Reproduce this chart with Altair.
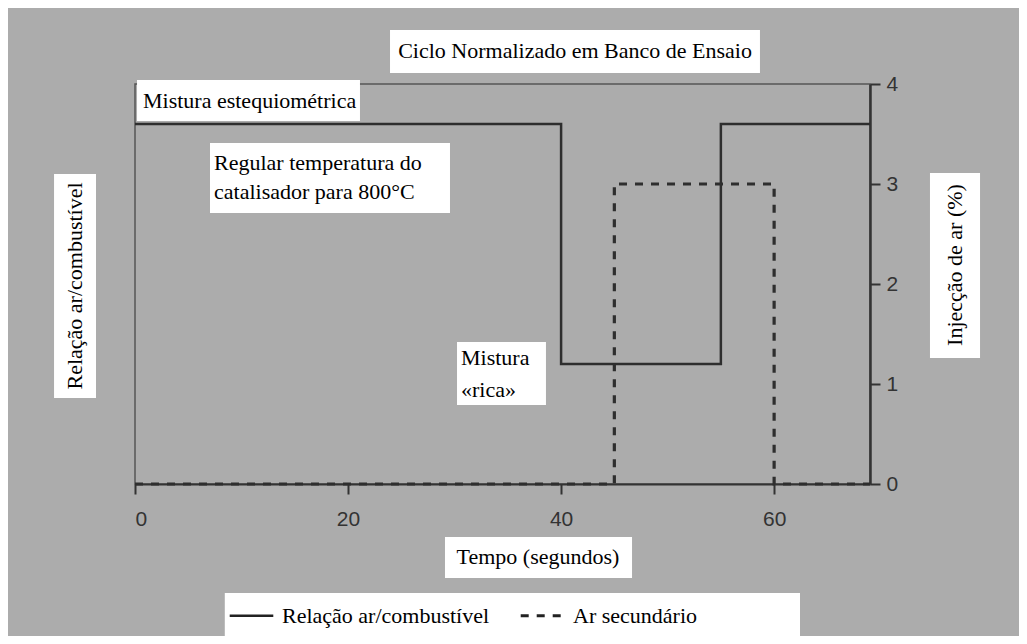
import altair as alt
import pandas as pd

# ---- data ----
serie_names = ["Relação ar/combustível", "Ar secundário"]
relacao_t = [0, 40, 55, 69]
relacao_v = [3.6, 1.2, 3.6, 3.6]
ar_t = [0, 45, 60, 69]
ar_v = [0, 3, 0, 0]
x_ticks = [0, 20, 40, 60]
y_ticks = [0, 1, 2, 3, 4]

# ---- annotations (text and white boxes, in data units) ----
box_x = [23.94, 0.19, 7.04, 30.23, -7.60, 74.63, 29.10, 8.43]
box_x2 = [58.67, 21.12, 29.57, 38.58, -3.66, 79.33, 46.66, 62.43]
box_y = [4.54, 4.04, 3.41, 1.42, 3.10, 3.11, -0.53, -1.09]
box_y2 = [4.11, 3.63, 2.71, 0.79, 0.86, 1.26, -0.94, -1.52]

txt = ["Ciclo Normalizado em Banco de Ensaio", "Mistura estequiométrica",
       "Regular temperatura do", "catalisador para 800°C",
       "Mistura", "«rica»", "Tempo (segundos)"]
txt_x = [41.31, 0.75, 7.42, 7.42, 30.6, 30.6, 37.83]
txt_y = [4.33, 3.83, 3.21, 2.92, 1.26, 0.94, -0.73]
txt_align = ["center", "left", "left", "left", "left", "left", "center"]

rot_txt = ["Relação ar/combustível", "Injecção de ar (%)"]
rot_x = [-5.63, 76.98]
rot_y = [1.98, 2.19]

lines = pd.DataFrame(
    [{"t": t, "v": v, "serie": serie_names[0]} for t, v in zip(relacao_t, relacao_v)]
    + [{"t": t, "v": v, "serie": serie_names[1]} for t, v in zip(ar_t, ar_v)]
)
boxes = pd.DataFrame({"x": box_x, "x2": box_x2, "y": box_y, "y2": box_y2})
texts = pd.DataFrame({"x": txt_x, "y": txt_y, "text": txt, "align": txt_align})
rots = pd.DataFrame({"x": rot_x, "y": rot_y, "text": rot_txt})

xs = alt.Scale(domain=[0, 69], nice=False, zero=False)
ys = alt.Scale(domain=[0, 4], nice=False, zero=False)
SERIF = "Liberation Serif"
FS = 22

box_layer = alt.Chart(boxes).mark_rect(color="white").encode(
    x=alt.X("x:Q", scale=xs), x2="x2:Q",
    y=alt.Y("y:Q", scale=ys), y2="y2:Q")

text_left = alt.Chart(texts[texts["align"] == "left"]).mark_text(
    font=SERIF, fontSize=FS, color="black", align="left", baseline="middle").encode(
    x=alt.X("x:Q", scale=xs), y=alt.Y("y:Q", scale=ys), text="text:N")
text_center = alt.Chart(texts[texts["align"] == "center"]).mark_text(
    font=SERIF, fontSize=FS, color="black", align="center", baseline="middle").encode(
    x=alt.X("x:Q", scale=xs), y=alt.Y("y:Q", scale=ys), text="text:N")
text_rot = alt.Chart(rots).mark_text(
    font=SERIF, fontSize=FS, color="black", align="center", baseline="middle", angle=270).encode(
    x=alt.X("x:Q", scale=xs), y=alt.Y("y:Q", scale=ys), text="text:N")

line_layer = alt.Chart(lines).mark_line(interpolate="step-after", color="#2e2e2e").encode(
    x=alt.X("t:Q", scale=xs,
            axis=alt.Axis(values=x_ticks, title=None, grid=False, tickSize=10,
                          domainColor="#333", domainWidth=2, tickColor="#333",
                          tickWidth=2, labelFont="Liberation Sans", labelFontSize=21,
                          labelColor="#333", labelPadding=14, format="d")),
    y=alt.Y("v:Q", scale=ys,
            axis=alt.Axis(orient="right", values=y_ticks, title=None, grid=False,
                          tickSize=10, domainColor="#333", domainWidth=2.5,
                          tickColor="#333", tickWidth=2, labelFont="Liberation Sans",
                          labelFontSize=21, labelColor="#333", labelPadding=6,
                          format="d")),
    strokeDash=alt.StrokeDash(
        "serie:N",
        scale=alt.Scale(domain=serie_names, range=[[1, 0], [8, 8]]),
        legend=alt.Legend(title=None, orient="none", legendX=88, legendY=503,
                          direction="horizontal", padding=5,
                          labelFont=SERIF, labelFontSize=FS, labelColor="black",
                          symbolType="stroke", symbolSize=1900,
                          symbolStrokeColor="#222", symbolStrokeWidth=3.5,
                          labelOffset=7, columnPadding=24, labelLimit=400)),
    strokeWidth=alt.StrokeWidth("serie:N",
        scale=alt.Scale(domain=serie_names, range=[2.5, 3.2]), legend=None),
    detail="serie:N",
)

chart = alt.layer(box_layer, line_layer, text_left, text_center, text_rot).properties(
    width=735, height=400,
    autosize=alt.AutoSizeParams(type="none"),
    padding={"left": 127, "top": 76, "right": 149, "bottom": 152},
    background="#acacac",
).configure_view(stroke="#555", strokeWidth=1.5)

chart.save("out.html", embed_options={"renderer": "svg", "actions": False})
